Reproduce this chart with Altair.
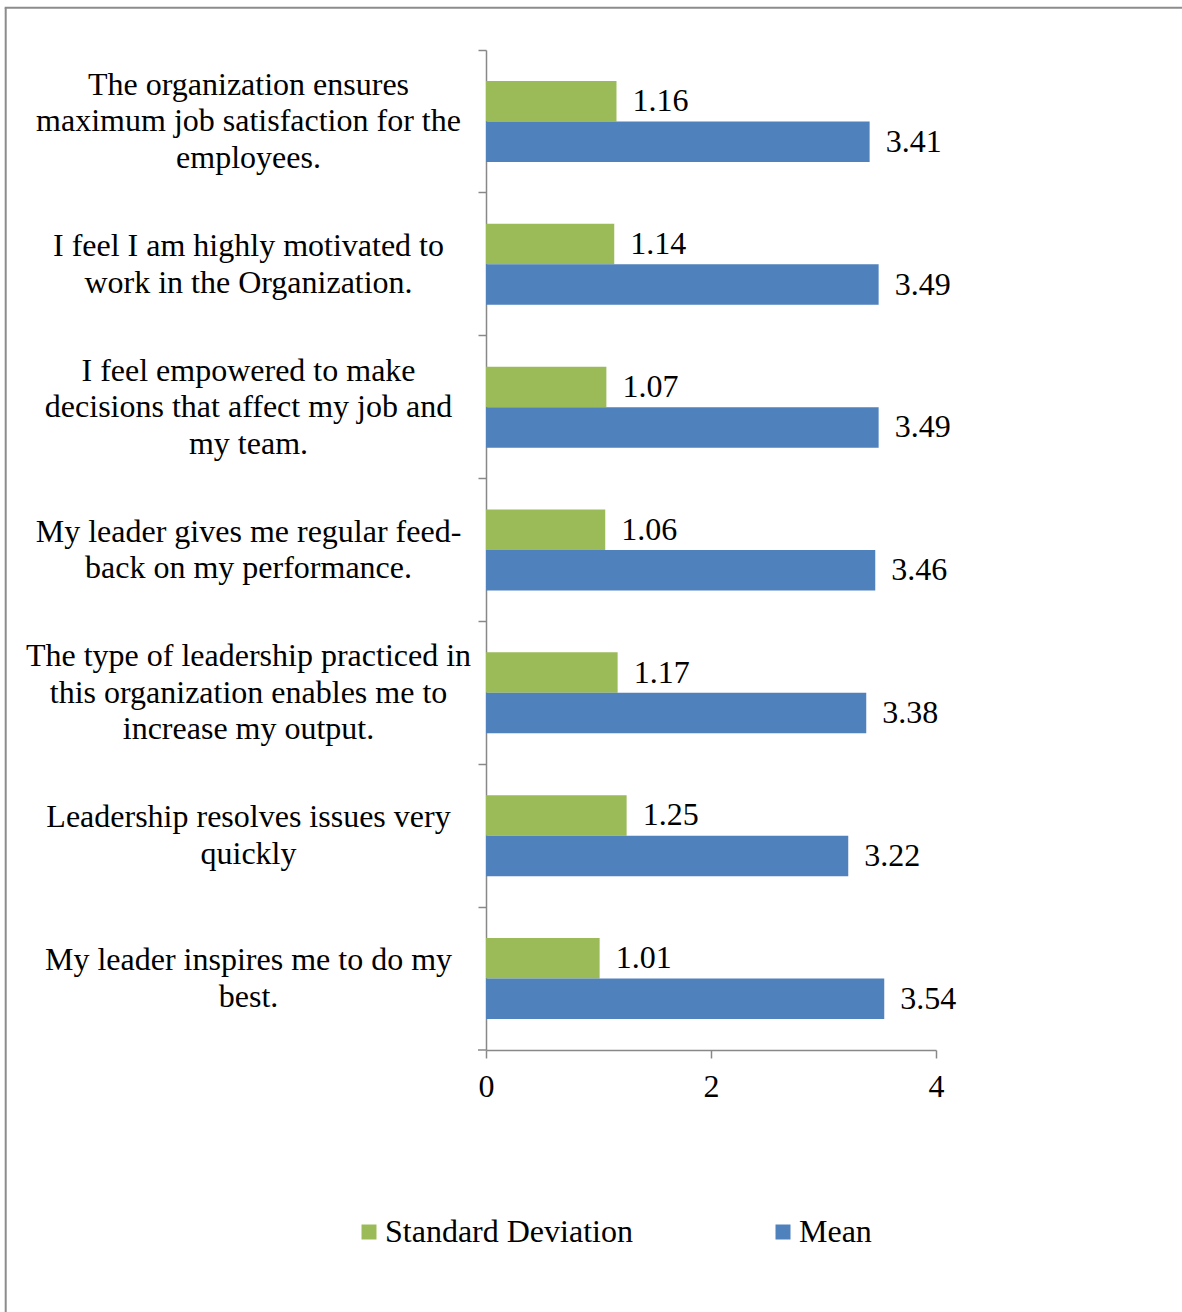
import altair as alt
import pandas as pd

questions = [
    "The organization ensures\nmaximum job satisfaction for the\nemployees.",
    "I feel I am highly motivated to\nwork in the Organization.",
    "I feel empowered to make\ndecisions that affect my job and\nmy team.",
    "My leader gives me regular feed-\nback on my performance.",
    "The type of leadership practiced in\nthis organization enables me to\nincrease my output.",
    "Leadership resolves issues very\nquickly",
    "My leader inspires me to do my\nbest.",
]
std_dev = [1.16, 1.14, 1.07, 1.06, 1.17, 1.25, 1.01]
mean = [3.41, 3.49, 3.49, 3.46, 3.38, 3.22, 3.54]
series = ["Standard Deviation", "Mean"]
colors = ["#9BBB59", "#4F81BD"]
x_ticks = [0, 2, 4]

rows = []
for q, s, m in zip(questions, std_dev, mean):
    rows.append({"question": q, "series": series[0], "value": s})
    rows.append({"question": q, "series": series[1], "value": m})
df = pd.DataFrame(rows)

FONT = "Liberation Serif"
FS = 32
LH = 36.5
W, H = 450, 1000
GRAY = "#888888"

y_enc = alt.Y(
    "question:N",
    sort=questions,
    scale=alt.Scale(paddingInner=0, paddingOuter=0),
    axis=alt.Axis(
        title=None,
        labelExpr="split(datum.label, '\\n')",
        labelAlign="center",
        labelBaseline="middle",
        labelPadding=230,
        labelLimit=600,
        labelFont=FONT,
        labelFontSize=FS,
        labelLineHeight=LH,
        labelColor="black",
        bandPosition=0,
        labelOffset={
            "condition": {
                "test": "length(split(datum.value, '\\n')) == 3",
                "value": -LH,
            },
            "value": -LH / 2,
        },
        tickSize=8,
        tickColor=GRAY,
        domainColor=GRAY,
        tickWidth=1.5,
        domainWidth=1.5,
    ),
)
yoff = alt.YOffset(
    "series:N", sort=series, scale=alt.Scale(paddingInner=0, paddingOuter=0.7637)
)

bars = alt.Chart(df).mark_bar().encode(
    y=y_enc,
    yOffset=yoff,
    x=alt.X(
        "value:Q",
        scale=alt.Scale(domain=[0, 4], nice=False),
        axis=alt.Axis(
            title=None,
            values=x_ticks,
            format="d",
            labelFlush=False,
            labelFont=FONT,
            labelFontSize=FS,
            labelColor="black",
            labelPadding=13,
            tickSize=8,
            tickColor=GRAY,
            domainColor=GRAY,
            tickWidth=1.5,
            domainWidth=1.5,
            grid=False,
        ),
    ),
    color=alt.Color(
        "series:N",
        sort=series,
        scale=alt.Scale(domain=series, range=colors),
        legend=alt.Legend(
            title=None,
            orient="none",
            direction="horizontal",
            legendX=-133,
            legendY=1166,
            symbolType="square",
            symbolSize=225,
            symbolStrokeWidth=0,
            labelFont=FONT,
            labelFontSize=FS,
            labelColor="black",
            labelOffset=0,
            columnPadding=134,
            labelLimit=400,
        ),
    ),
)

labels = alt.Chart(df).mark_text(
    align="left", baseline="middle", dx=16, font=FONT, fontSize=FS, color="black"
).encode(
    y=alt.Y("question:N", sort=questions),
    yOffset=yoff,
    x="value:Q",
    text=alt.Text("value:Q", format=".2f"),
)

one = alt.Data(values=[{"k": 1}])
bottom_tick = alt.Chart(one).mark_rule(color=GRAY, strokeWidth=1.5).encode(
    x=alt.value(-8), x2=alt.value(0), y=alt.value(H)
)
border_left = alt.Chart(one).mark_rule(color="#8c8c8c", strokeWidth=2).encode(
    x=alt.value(-480.3), y=alt.value(-42.3), y2=alt.value(1262)
)
border_top = alt.Chart(one).mark_rule(color="#8c8c8c", strokeWidth=2).encode(
    x=alt.value(-481.3), x2=alt.value(696), y=alt.value(-42.3)
)

chart = alt.layer(bars, labels, bottom_tick, border_left, border_top).properties(
    width=W,
    height=H,
    autosize=alt.AutoSizeParams(type="none"),
    padding={"left": 486, "top": 50, "right": 246, "bottom": 262},
).configure_view(stroke=None)

chart.save("out.html", embed_options={"renderer": "svg", "actions": False})
